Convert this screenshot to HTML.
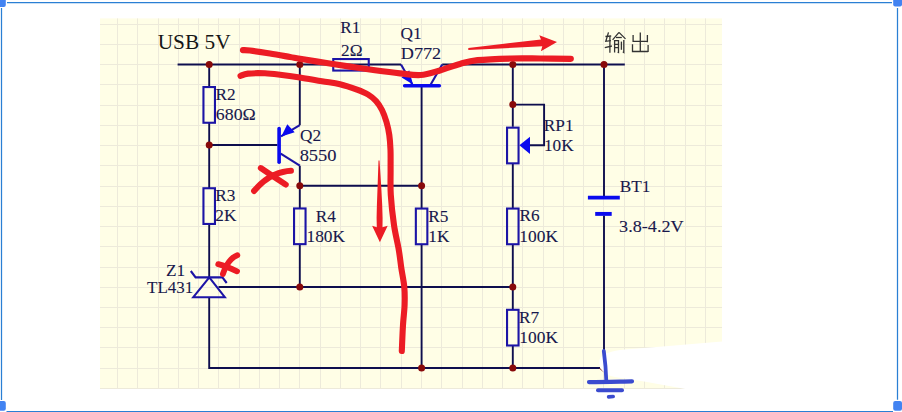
<!DOCTYPE html>
<html><head><meta charset="utf-8"><style>
html,body{margin:0;padding:0;background:#fff;width:902px;height:412px;overflow:hidden}
svg{position:absolute;left:0;top:0}
text{font-family:"Liberation Serif",serif}
</style></head><body>
<svg width="902" height="412" viewBox="0 0 902 412">
<rect x="100" y="18.4" width="622" height="370.6" fill="#fffee6"/>
<g stroke="#edeada" stroke-width="1">
<line x1="117.50" y1="18.4" x2="117.50" y2="389" />
<line x1="137.50" y1="18.4" x2="137.50" y2="389" />
<line x1="158.50" y1="18.4" x2="158.50" y2="389" />
<line x1="178.50" y1="18.4" x2="178.50" y2="389" />
<line x1="198.50" y1="18.4" x2="198.50" y2="389" />
<line x1="218.50" y1="18.4" x2="218.50" y2="389" />
<line x1="239.50" y1="18.4" x2="239.50" y2="389" />
<line x1="259.50" y1="18.4" x2="259.50" y2="389" />
<line x1="279.50" y1="18.4" x2="279.50" y2="389" />
<line x1="299.50" y1="18.4" x2="299.50" y2="389" />
<line x1="320.50" y1="18.4" x2="320.50" y2="389" />
<line x1="340.50" y1="18.4" x2="340.50" y2="389" />
<line x1="360.50" y1="18.4" x2="360.50" y2="389" />
<line x1="380.50" y1="18.4" x2="380.50" y2="389" />
<line x1="401.50" y1="18.4" x2="401.50" y2="389" />
<line x1="421.50" y1="18.4" x2="421.50" y2="389" />
<line x1="441.50" y1="18.4" x2="441.50" y2="389" />
<line x1="462.50" y1="18.4" x2="462.50" y2="389" />
<line x1="482.50" y1="18.4" x2="482.50" y2="389" />
<line x1="502.50" y1="18.4" x2="502.50" y2="389" />
<line x1="522.50" y1="18.4" x2="522.50" y2="389" />
<line x1="543.50" y1="18.4" x2="543.50" y2="389" />
<line x1="563.50" y1="18.4" x2="563.50" y2="389" />
<line x1="583.50" y1="18.4" x2="583.50" y2="389" />
<line x1="603.50" y1="18.4" x2="603.50" y2="389" />
<line x1="624.50" y1="18.4" x2="624.50" y2="389" />
<line x1="644.50" y1="18.4" x2="644.50" y2="389" />
<line x1="664.50" y1="18.4" x2="664.50" y2="389" />
<line x1="685.50" y1="18.4" x2="685.50" y2="389" />
<line x1="705.50" y1="18.4" x2="705.50" y2="389" />
<line x1="100" y1="24.50" x2="722" y2="24.50" />
<line x1="100" y1="44.50" x2="722" y2="44.50" />
<line x1="100" y1="64.50" x2="722" y2="64.50" />
<line x1="100" y1="84.50" x2="722" y2="84.50" />
<line x1="100" y1="105.50" x2="722" y2="105.50" />
<line x1="100" y1="125.50" x2="722" y2="125.50" />
<line x1="100" y1="145.50" x2="722" y2="145.50" />
<line x1="100" y1="165.50" x2="722" y2="165.50" />
<line x1="100" y1="186.50" x2="722" y2="186.50" />
<line x1="100" y1="206.50" x2="722" y2="206.50" />
<line x1="100" y1="226.50" x2="722" y2="226.50" />
<line x1="100" y1="246.50" x2="722" y2="246.50" />
<line x1="100" y1="267.50" x2="722" y2="267.50" />
<line x1="100" y1="287.50" x2="722" y2="287.50" />
<line x1="100" y1="307.50" x2="722" y2="307.50" />
<line x1="100" y1="327.50" x2="722" y2="327.50" />
<line x1="100" y1="347.50" x2="722" y2="347.50" />
<line x1="100" y1="368.50" x2="722" y2="368.50" />
<line x1="100" y1="388.50" x2="722" y2="388.50" />
</g>
<path d="M177.6,64.5 L401,64.5" fill="none" stroke="#0e0e4e" stroke-width="1.9" />
<path d="M442.2,64.5 L624.8,64.5" fill="none" stroke="#0e0e4e" stroke-width="1.9" />
<path d="M209.2,64.5 L209.2,86.5" fill="none" stroke="#0e0e4e" stroke-width="1.9" />
<path d="M209.2,123 L209.2,188" fill="none" stroke="#0e0e4e" stroke-width="1.9" />
<path d="M209.2,224 L209.2,277.4" fill="none" stroke="#0e0e4e" stroke-width="1.9" />
<path d="M209.2,297.2 L209.2,368.0 L600,368.0" fill="none" stroke="#0e0e4e" stroke-width="1.9" />
<path d="M209.2,145.0 L277.5,145.0" fill="none" stroke="#0e0e4e" stroke-width="1.9" />
<path d="M299.8,64.5 L299.8,125.2" fill="none" stroke="#0e0e4e" stroke-width="1.9" />
<path d="M299.8,165.7 L299.8,208" fill="none" stroke="#0e0e4e" stroke-width="1.9" />
<path d="M299.8,244.6 L299.8,287.0" fill="none" stroke="#0e0e4e" stroke-width="1.9" />
<path d="M299.8,185.8 L421.6,185.8" fill="none" stroke="#0e0e4e" stroke-width="1.9" />
<path d="M421.6,87 L421.6,208.5" fill="none" stroke="#0e0e4e" stroke-width="1.9" />
<path d="M421.6,244.5 L421.6,368.0" fill="none" stroke="#0e0e4e" stroke-width="1.9" />
<path d="M218.5,287.0 L512.8,287.0" fill="none" stroke="#0e0e4e" stroke-width="1.9" />
<path d="M512.8,64.5 L512.8,126.8" fill="none" stroke="#0e0e4e" stroke-width="1.9" />
<path d="M512.8,163.2 L512.8,208.3" fill="none" stroke="#0e0e4e" stroke-width="1.9" />
<path d="M512.8,244.5 L512.8,309.5" fill="none" stroke="#0e0e4e" stroke-width="1.9" />
<path d="M512.8,345.7 L512.8,368.0" fill="none" stroke="#0e0e4e" stroke-width="1.9" />
<path d="M512.8,104.6 L544.1,104.6 L544.1,145.2 L529,145.2" fill="none" stroke="#0e0e4e" stroke-width="1.9" />
<path d="M604.0,64.5 L604.0,196" fill="none" stroke="#0e0e4e" stroke-width="1.9" />
<path d="M604.0,215.5 L604.0,350" fill="none" stroke="#0e0e4e" stroke-width="1.9" />
<rect x="333.25" y="59.05" width="35.50000000000002" height="11.499999999999995" fill="none" stroke="#1c14a6" stroke-width="2.1"/>
<rect x="203.45" y="87.05" width="11.500000000000023" height="35.70000000000001" fill="none" stroke="#1c14a6" stroke-width="2.1"/>
<rect x="203.45" y="188.25" width="11.500000000000023" height="35.70000000000001" fill="none" stroke="#1c14a6" stroke-width="2.1"/>
<rect x="294.05" y="208.45000000000002" width="11.500000000000023" height="35.70000000000001" fill="none" stroke="#1c14a6" stroke-width="2.1"/>
<rect x="415.85" y="208.55" width="11.500000000000023" height="35.70000000000001" fill="none" stroke="#1c14a6" stroke-width="2.1"/>
<rect x="507.04999999999995" y="127.64999999999999" width="11.499999999999966" height="35.70000000000001" fill="none" stroke="#1c14a6" stroke-width="2.1"/>
<rect x="507.04999999999995" y="208.55" width="11.499999999999966" height="35.70000000000001" fill="none" stroke="#1c14a6" stroke-width="2.1"/>
<rect x="507.04999999999995" y="309.8" width="11.499999999999966" height="35.69999999999995" fill="none" stroke="#1c14a6" stroke-width="2.1"/>

<g fill="none" stroke="#1c14a6" stroke-width="2.1" stroke-linejoin="miter">
<path d="M401,64.5 L412.5,84.8"/>
<path d="M430.7,84.5 L442.2,64.5"/>
<path d="M281,136.4 L299.8,125.2"/>
<path d="M280.7,153.6 L299.8,165.7"/>
<path d="M193.3,297.2 L224.8,297.2 L209.3,277.4 Z"/>
<path d="M190.8,271 L195.6,277.4 L222.4,277.4 L226.7,283"/>
</g>
<g stroke="#0a0aee" stroke-linecap="round">
<line x1="404.6" y1="85.75" x2="439.4" y2="85.75" stroke-width="3.4"/>
<line x1="279.1" y1="128.5" x2="279.1" y2="162.2" stroke-width="3.6"/>
</g>
<g stroke="#0a0aee">
<line x1="587.9" y1="197.6" x2="619.8" y2="197.6" stroke-width="3.9"/>
<line x1="595.2" y1="213.9" x2="611.7" y2="213.9" stroke-width="3.9"/>
</g>
<g fill="#0a0aee">
<path d="M413,84.6 L401.6,77.6 L409.2,70.2 Z"/>
<path d="M281.3,136.6 L287.3,124.3 L294.7,132.3 Z"/>
<path d="M519.4,145.2 L530,136.7 L530,154 Z"/>
</g>

<circle cx="209.2" cy="64.5" r="3.5" fill="#880a0a"/>
<circle cx="299.8" cy="64.5" r="3.5" fill="#880a0a"/>
<circle cx="512.8" cy="64.5" r="3.5" fill="#880a0a"/>
<circle cx="604.0" cy="64.5" r="3.5" fill="#880a0a"/>
<circle cx="209.2" cy="145.0" r="3.5" fill="#880a0a"/>
<circle cx="299.8" cy="185.8" r="3.5" fill="#880a0a"/>
<circle cx="421.6" cy="185.8" r="3.5" fill="#880a0a"/>
<circle cx="512.8" cy="104.5" r="3.5" fill="#880a0a"/>
<circle cx="299.8" cy="287.0" r="3.5" fill="#880a0a"/>
<circle cx="512.8" cy="287.0" r="3.5" fill="#880a0a"/>
<circle cx="421.6" cy="368.0" r="3.5" fill="#880a0a"/>
<circle cx="512.8" cy="368.0" r="3.5" fill="#880a0a"/>
<text transform="translate(157.71,49.19) scale(1.185,1.19)" font-size="18" fill="#161616" stroke="#161616" stroke-width="0">USB 5V</text>
<text transform="translate(340.26,33.37) scale(0.96,0.965)" font-size="18" fill="#18184c" stroke="#18184c" stroke-width="0.1">R1</text>
<text transform="translate(341.12,55.59) scale(0.96,0.965)" font-size="18" fill="#18184c" stroke="#18184c" stroke-width="0.1">2Ω</text>
<text transform="translate(400.61,38.87) scale(0.96,0.965)" font-size="18" fill="#18184c" stroke="#18184c" stroke-width="0.1">Q1</text>
<text transform="translate(400.8,59.14) scale(1.01,0.965)" font-size="18" fill="#18184c" stroke="#18184c" stroke-width="0.1">D772</text>
<text transform="translate(215.56,100.29) scale(0.96,0.965)" font-size="18" fill="#18184c" stroke="#18184c" stroke-width="0.1">R2</text>
<text transform="translate(215.87,119.57) scale(0.988,0.965)" font-size="18" fill="#18184c" stroke="#18184c" stroke-width="0.1">680Ω</text>
<text transform="translate(299.91,140.82) scale(0.96,0.965)" font-size="18" fill="#18184c" stroke="#18184c" stroke-width="0.1">Q2</text>
<text transform="translate(299.63,160.62) scale(1.026,0.965)" font-size="18" fill="#18184c" stroke="#18184c" stroke-width="0.1">8550</text>
<text transform="translate(215.14,201.37) scale(0.96,0.965)" font-size="18" fill="#18184c" stroke="#18184c" stroke-width="0.1">R3</text>
<text transform="translate(215.3,221.19) scale(0.96,0.965)" font-size="18" fill="#18184c" stroke="#18184c" stroke-width="0.1">2K</text>
<text transform="translate(165.97,276.27) scale(0.96,0.965)" font-size="18" fill="#18184c" stroke="#18184c" stroke-width="0.1">Z1</text>
<text transform="translate(147.05,292.82) scale(0.945,0.965)" font-size="18" fill="#18184c" stroke="#18184c" stroke-width="0.1">TL431</text>
<text transform="translate(315.85,221.82) scale(0.96,0.965)" font-size="18" fill="#18184c" stroke="#18184c" stroke-width="0.1">R4</text>
<text transform="translate(306.45,241.52) scale(0.965,0.965)" font-size="18" fill="#18184c" stroke="#18184c" stroke-width="0.1">180K</text>
<text transform="translate(428.14,221.55) scale(0.96,0.965)" font-size="18" fill="#18184c" stroke="#18184c" stroke-width="0.1">R5</text>
<text transform="translate(428.34,241.52) scale(0.96,0.965)" font-size="18" fill="#18184c" stroke="#18184c" stroke-width="0.1">1K</text>
<text transform="translate(543.81,130.87) scale(0.96,0.965)" font-size="18" fill="#18184c" stroke="#18184c" stroke-width="0.1">RP1</text>
<text transform="translate(543.92,150.67) scale(0.96,0.965)" font-size="18" fill="#18184c" stroke="#18184c" stroke-width="0.1">10K</text>
<text transform="translate(519.47,221.37) scale(0.96,0.965)" font-size="18" fill="#18184c" stroke="#18184c" stroke-width="0.1">R6</text>
<text transform="translate(519.35,241.62) scale(0.965,0.965)" font-size="18" fill="#18184c" stroke="#18184c" stroke-width="0.1">100K</text>
<text transform="translate(519.02,322.67) scale(0.96,0.965)" font-size="18" fill="#18184c" stroke="#18184c" stroke-width="0.1">R7</text>
<text transform="translate(519.35,342.52) scale(0.965,0.965)" font-size="18" fill="#18184c" stroke="#18184c" stroke-width="0.1">100K</text>
<text transform="translate(619.78,191.57) scale(0.96,0.965)" font-size="18" fill="#18184c" stroke="#18184c" stroke-width="0.1">BT1</text>
<text transform="translate(619.08,231.62) scale(1.009,0.965)" font-size="18" fill="#18184c" stroke="#18184c" stroke-width="0.1">3.8-4.2V</text>
<g fill="none" stroke="#333" stroke-width="1.3" stroke-linecap="butt">
<path d="M633.1,35.1 L633.1,41.3 L647.4,41.3 M647.4,35.1 L647.4,42.3"/>
<path d="M632.5,44.3 L632.5,51.5 L648.1,51.5 M648.1,45 L648.1,52.1"/>
<path d="M640.3,32.4 L640.3,51.5"/>
<path d="M605.4,36.5 L611.2,36"/>
<path d="M608.5,32.4 L605.8,41.3 L610.9,40.6"/>
<path d="M609.9,36.8 L609.9,52.8"/>
<path d="M604.8,47.7 L611.9,46"/>
<path d="M619,32.4 L612.6,39.9 M619,32.4 L625.5,38.9"/>
<path d="M616,37.5 L621.8,37.5"/>
<path d="M614.6,52.5 L614.6,40.6 L618.5,40.6 L618.5,52.5 L617.6,52 M614.6,44.3 L618.5,44.3 M614.6,47.7 L618.5,47.7"/>
<path d="M621.4,41.6 L621.4,49.8"/>
<path d="M623.8,39.9 L623.8,52.5 L622.8,51.8"/>
</g>
<g fill="none" stroke="#ec1c24" stroke-linecap="round" stroke-linejoin="round">
<path d="M243,50.1 C244.17,50.17 245.50,49.93 250,50.5 C254.50,51.07 263.33,52.42 270,53.5 C276.67,54.58 285.00,56.12 290,57 C295.00,57.88 294.17,57.83 300,58.8 C305.83,59.77 316.67,61.50 325,62.8 C333.33,64.10 341.67,65.37 350,66.6 C358.33,67.83 366.67,69.08 375,70.2 C383.33,71.32 392.42,72.50 400,73.3 C407.58,74.10 413.83,75.48 420.5,75 C427.17,74.52 433.42,72.25 440,70.4 C446.58,68.55 453.73,65.60 460,63.9 C466.27,62.20 469.12,61.10 477.6,60.2 C486.08,59.30 500.50,58.78 510.9,58.5 C521.30,58.22 530.02,58.45 540,58.5 C549.98,58.55 565.67,58.75 570.8,58.8" stroke-width="6.2"/>
<path d="M240.5,75.8 C241.75,75.43 243.92,74.02 248,73.6 C252.08,73.18 259.67,73.12 265,73.3 C270.33,73.48 274.17,74.00 280,74.7 C285.83,75.40 293.00,76.40 300,77.5 C307.00,78.60 315.33,80.18 322,81.3 C328.67,82.42 334.17,82.82 340,84.2 C345.83,85.58 352.33,87.88 357,89.6 C361.67,91.32 364.83,92.60 368,94.5 C371.17,96.40 373.67,98.42 376,101 C378.33,103.58 380.25,106.50 382,110 C383.75,113.50 385.28,117.83 386.5,122 C387.72,126.17 388.63,130.33 389.3,135 C389.97,139.67 390.28,144.17 390.5,150 C390.72,155.83 390.55,162.50 390.6,170 C390.65,177.50 390.23,185.83 390.8,195 C391.37,204.17 392.67,215.83 394,225 C395.33,234.17 397.58,242.83 398.8,250 C400.02,257.17 400.38,261.83 401.3,268 C402.22,274.17 403.75,280.83 404.3,287 C404.85,293.17 404.82,298.67 404.6,305 C404.38,311.33 403.47,317.33 403,325 C402.53,332.67 402.00,346.67 401.8,351" stroke-width="6.1"/>
<path d="M260.8,168 C268,173 278,179.5 285.8,184.6" stroke-width="5.9"/>
<path d="M254,191 C260,184 266,178.5 274,175 C280,172.5 286,171 291,170.8" stroke-width="5.9"/>
<path d="M218.3,264.2 C225,266 231,268.5 237,271.3" stroke-width="5.9"/>
<path d="M222.9,273.9 C225,268 228,262.5 231,259.5 C233,257.5 235,256 237.3,255.2" stroke-width="5.9"/>
</g>
<g fill="#ec1c24">
<path d="M378.5,160.4 L377.6,186 L376.9,205 L376.6,218 L376.8,227.3 L372.1,225.8 L379.9,242.2 L387.7,225.8 L382.5,227.3 L382.6,218 L382.2,205 L381.2,186 L379.5,160.4 Z"/>
<path d="M468.3,48.1 L500,44.2 L541,39.4 L539.3,35.2 L557,42 L540.9,51.3 L542.3,46.2 L500,48.4 L468.3,49.9 Z"/>
</g>
<path d="M599.3,368.2 L603.8,371.8" stroke="#7a1a1a" stroke-width="1" fill="none"/>
<path d="M625,349.5 C660,347 690,344 722,341.5 L722,389.5 L688,389.5 C660,384 635,380 615,377 C603,375 598.5,368 599.5,360 C600.5,354 612,350.5 625,349.5 Z" fill="#ffffff"/>
<g fill="none" stroke="#3b4bcf" stroke-linecap="round">
<path d="M603.8,351 C605,360 606,370 606.3,381" stroke-width="3.8"/>
<path d="M589,382.1 C605,382 620,381.6 632,381.4" stroke-width="4.2"/>
<path d="M598,390.3 L622,390.3" stroke-width="4"/>
<path d="M608.6,396.9 L613.2,396.5" stroke-width="3.6"/>
</g>
<g fill="none" stroke="#2a7fd4" stroke-width="1.25">
<line x1="7" y1="2.5" x2="892" y2="2.5"/>
<line x1="1.5" y1="8" x2="1.5" y2="400"/>
<line x1="897.5" y1="8" x2="897.5" y2="399.7"/>
<line x1="6.5" y1="411.5" x2="893" y2="411.5"/>
</g>
<g fill="#4283f2">
<rect x="-3.2" y="-3" width="9" height="10" rx="2"/>
<rect x="893.2" y="-3" width="8.8" height="9.6" rx="2"/>
<rect x="-3.2" y="401" width="9" height="9.8" rx="2"/>
<rect x="893.2" y="401" width="8.8" height="9.8" rx="2"/>
</g>
</svg>
</body></html>
